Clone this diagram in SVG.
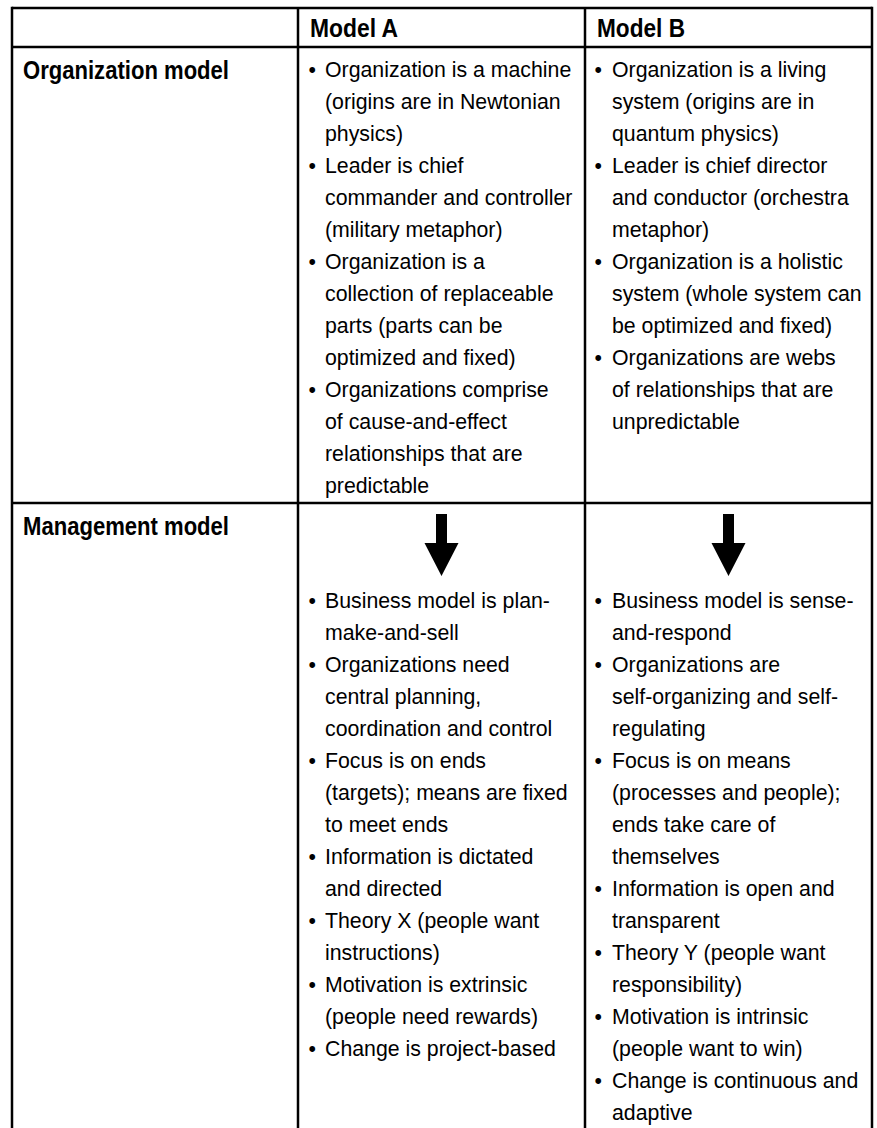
<svg xmlns="http://www.w3.org/2000/svg" width="877" height="1128" viewBox="0 0 877 1128">
<style>
.grid line{stroke:#000;stroke-width:2.5}
.hd{font-family:"Liberation Sans Narrow","Liberation Sans",Arial,sans-serif;font-weight:bold;font-size:26px;fill:#000}
.bd{font-family:"Liberation Sans",Arial,sans-serif;font-size:21.3px;fill:#000}
.arr{fill:#000}
</style>
<rect width="877" height="1128" fill="#fff"/>
<g class="grid" id="grid">
<line x1="12" y1="8" x2="872" y2="8"/>
<line x1="12" y1="47" x2="872" y2="47"/>
<line x1="12" y1="503" x2="872" y2="503"/>
<line x1="12" y1="6.75" x2="12" y2="1128"/>
<line x1="298" y1="8" x2="298" y2="1128"/>
<line x1="585" y1="8" x2="585" y2="1128"/>
<line x1="872" y1="6.75" x2="872" y2="1128"/>
</g>
<g id="header-a"><text class="hd" x="310" y="37" textLength="88" lengthAdjust="spacingAndGlyphs">Model A</text></g>
<g id="header-b"><text class="hd" x="597" y="37" textLength="88" lengthAdjust="spacingAndGlyphs">Model B</text></g>
<g id="row-org"><text class="hd" x="23" y="79" textLength="206" lengthAdjust="spacingAndGlyphs">Organization model</text></g>
<g id="row-mgmt"><text class="hd" x="23" y="535" textLength="206" lengthAdjust="spacingAndGlyphs">Management model</text></g>
<g id="org-a">
<text class="bd">
<tspan x="308.5" y="77">•</tspan><tspan x="325">Organization is a machine</tspan>
<tspan x="325" y="109">(origins are in Newtonian</tspan>
<tspan x="325" y="141">physics)</tspan>
<tspan x="308.5" y="173">•</tspan><tspan x="325">Leader is chief</tspan>
<tspan x="325" y="205">commander and controller</tspan>
<tspan x="325" y="237">(military metaphor)</tspan>
<tspan x="308.5" y="269">•</tspan><tspan x="325">Organization is a</tspan>
<tspan x="325" y="301">collection of replaceable</tspan>
<tspan x="325" y="333">parts (parts can be</tspan>
<tspan x="325" y="365">optimized and fixed)</tspan>
<tspan x="308.5" y="397">•</tspan><tspan x="325">Organizations comprise</tspan>
<tspan x="325" y="429">of cause-and-effect</tspan>
<tspan x="325" y="461">relationships that are</tspan>
<tspan x="325" y="493">predictable</tspan>
</text>
</g>
<g id="org-b">
<text class="bd">
<tspan x="594.5" y="77">•</tspan><tspan x="612">Organization is a living</tspan>
<tspan x="612" y="109">system (origins are in</tspan>
<tspan x="612" y="141">quantum physics)</tspan>
<tspan x="594.5" y="173">•</tspan><tspan x="612">Leader is chief director</tspan>
<tspan x="612" y="205">and conductor (orchestra</tspan>
<tspan x="612" y="237">metaphor)</tspan>
<tspan x="594.5" y="269">•</tspan><tspan x="612">Organization is a holistic</tspan>
<tspan x="612" y="301">system (whole system can</tspan>
<tspan x="612" y="333">be optimized and fixed)</tspan>
<tspan x="594.5" y="365">•</tspan><tspan x="612">Organizations are webs</tspan>
<tspan x="612" y="397">of relationships that are</tspan>
<tspan x="612" y="429">unpredictable</tspan>
</text>
</g>
<g id="connectors">
<path class="arr" d="M436,514 H447 V543 H458.5 L441.5,576 L424.5,543 H436 Z"/>
<path class="arr" d="M723,514 H734 V543 H745.5 L728.5,576 L711.5,543 H723 Z"/>
</g>
<g id="mgmt-a">
<text class="bd">
<tspan x="308.5" y="608">•</tspan><tspan x="325">Business model is plan-</tspan>
<tspan x="325" y="640">make-and-sell</tspan>
<tspan x="308.5" y="672">•</tspan><tspan x="325">Organizations need</tspan>
<tspan x="325" y="704">central planning,</tspan>
<tspan x="325" y="736">coordination and control</tspan>
<tspan x="308.5" y="768">•</tspan><tspan x="325">Focus is on ends</tspan>
<tspan x="325" y="800">(targets); means are fixed</tspan>
<tspan x="325" y="832">to meet ends</tspan>
<tspan x="308.5" y="864">•</tspan><tspan x="325">Information is dictated</tspan>
<tspan x="325" y="896">and directed</tspan>
<tspan x="308.5" y="928">•</tspan><tspan x="325">Theory X (people want</tspan>
<tspan x="325" y="960">instructions)</tspan>
<tspan x="308.5" y="992">•</tspan><tspan x="325">Motivation is extrinsic</tspan>
<tspan x="325" y="1024">(people need rewards)</tspan>
<tspan x="308.5" y="1056">•</tspan><tspan x="325">Change is project-based</tspan>
</text>
</g>
<g id="mgmt-b">
<text class="bd">
<tspan x="594.5" y="608">•</tspan><tspan x="612">Business model is sense-</tspan>
<tspan x="612" y="640">and-respond</tspan>
<tspan x="594.5" y="672">•</tspan><tspan x="612">Organizations are</tspan>
<tspan x="612" y="704">self-organizing and self-</tspan>
<tspan x="612" y="736">regulating</tspan>
<tspan x="594.5" y="768">•</tspan><tspan x="612">Focus is on means</tspan>
<tspan x="612" y="800">(processes and people);</tspan>
<tspan x="612" y="832">ends take care of</tspan>
<tspan x="612" y="864">themselves</tspan>
<tspan x="594.5" y="896">•</tspan><tspan x="612">Information is open and</tspan>
<tspan x="612" y="928">transparent</tspan>
<tspan x="594.5" y="960">•</tspan><tspan x="612">Theory Y (people want</tspan>
<tspan x="612" y="992">responsibility)</tspan>
<tspan x="594.5" y="1024">•</tspan><tspan x="612">Motivation is intrinsic</tspan>
<tspan x="612" y="1056">(people want to win)</tspan>
<tspan x="594.5" y="1088">•</tspan><tspan x="612">Change is continuous and</tspan>
<tspan x="612" y="1120">adaptive</tspan>
</text>
</g>
</svg>
